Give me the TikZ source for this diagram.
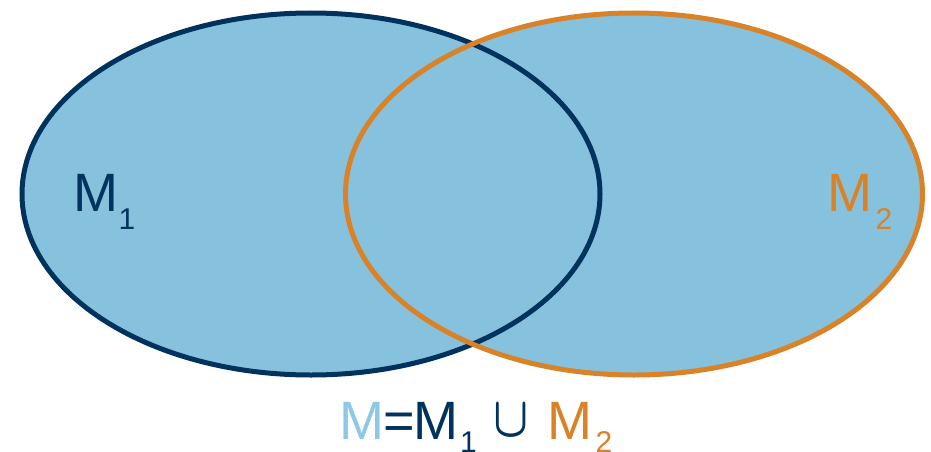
\documentclass[tikz,border=0pt]{standalone}
\usepackage{fontspec}
\setmainfont{Liberation Sans}
\definecolor{fillblue}{RGB}{134,194,222}
\definecolor{darkblue}{RGB}{0,50,94}
\definecolor{orng}{RGB}{217,130,40}
\definecolor{lightblue}{RGB}{141,200,228}
\begin{document}
\begin{tikzpicture}[x=1pt,y=-1pt,
  big/.style={font=\fontsize{54}{60}\selectfont, inner sep=0pt, anchor=base west},
  sub/.style={font=\fontsize{30}{34}\selectfont, inner sep=0pt, anchor=base west},
  setline/.style={line width=5pt}]
\useasboundingbox (0,0) rectangle (931,452);
\fill[white] (0,0) rectangle (931,452);
\fill[fillblue] (311,194) ellipse [x radius=289, y radius=181]
                (634,194) ellipse [x radius=288.5, y radius=181];
\draw[setline, darkblue] (311,194) ellipse [x radius=289, y radius=181];
\draw[setline, orng] (634,194) ellipse [x radius=288.5, y radius=181];
% labels in sets
\node[big, text=darkblue] (m1) at (73.3,211.7) {M};
\node[sub, text=darkblue] (m1s) at (118.4,229) {1};
\node[big, text=orng] (m2) at (827,211.7) {M};
\node[sub, text=orng] (m2s) at (875.4,229.3) {2};
% formula
\node[big, text=lightblue] (fm) at (339.3,439) {M};
\node[big, text=darkblue] (feq) at (382.9,439) {=};
\node[big, text=darkblue] (fm1) at (413.7,439) {M};
\node[sub, text=darkblue] (fm1s) at (460,452) {1};
\node[inner sep=0pt, text=darkblue] (fcup) at (510.9,420.5) {\scalebox{4.6}[5.7]{\boldmath$\cup$}};
\node[big, text=orng] (fm2) at (547.7,439) {M};
\node[sub, text=orng] (fm2s) at (595.4,452) {2};
\end{tikzpicture}
\end{document}
